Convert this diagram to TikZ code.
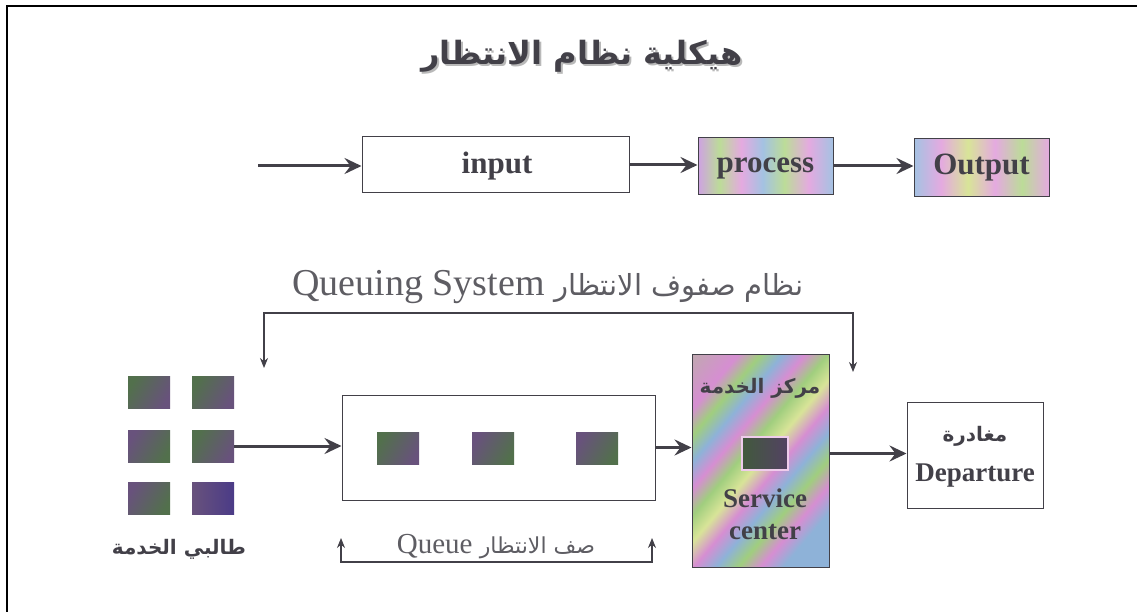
\documentclass[tikz,border=0pt]{standalone}
\usepackage{fontspec}
\setmainfont{Liberation Serif}
\newfontfamily\arabicfont[Script=Arabic]{DejaVu Sans}
\TeXXeTstate=1
\usetikzlibrary{arrows.meta}

% palette
\definecolor{ink}{RGB}{66,64,72}
\definecolor{rpink}{RGB}{228,170,224}
\definecolor{rgreen}{RGB}{188,220,152}
\definecolor{rblue}{RGB}{164,194,226}
\definecolor{rlilac}{RGB}{206,162,226}
\definecolor{ryellow}{RGB}{216,228,152}
\definecolor{spink}{RGB}{214,142,210}
\definecolor{sgreen}{RGB}{160,206,126}
\definecolor{sblue}{RGB}{142,178,216}
\definecolor{cgreen}{RGB}{82,112,76}
\definecolor{cpurple}{RGB}{104,82,124}

% multicolour fills of the process, output and service boxes
\pgfdeclarehorizontalshading{procshade}{100bp}{color(0bp)=(rlilac); color(25bp)=(rlilac);
  color(33bp)=(rgreen); color(41bp)=(rpink); color(49bp)=(rblue); color(57bp)=(rgreen);
  color(66bp)=(rpink); color(75bp)=(rblue); color(100bp)=(rblue)}
\pgfdeclarehorizontalshading{outshade}{100bp}{color(0bp)=(rblue); color(25bp)=(rblue);
  color(35bp)=(rpink); color(45bp)=(ryellow); color(55bp)=(rpink); color(65bp)=(rgreen);
  color(75bp)=(rpink); color(100bp)=(rpink)}
\pgfdeclarehorizontalshading{servshade}{100bp}{color(0bp)=(sgreen); color(25bp)=(spink);
  color(30bp)=(sgreen); color(35bp)=(sblue); color(40bp)=(spink); color(45bp)=(sgreen);
  color(50bp)=(ryellow); color(55bp)=(spink); color(60bp)=(sblue); color(65bp)=(sgreen);
  color(70bp)=(spink); color(75bp)=(sblue); color(100bp)=(sblue)}

\tikzset{
  box/.style={draw=ink, line width=1pt, inner sep=0pt},
  plainbox/.style={box, fill=white},
  labtext/.style={text=ink, inner sep=0pt, font=\fontsize{31}{36}\selectfont\bfseries},
  smalllab/.style={text=ink, inner sep=0pt, font=\fontsize{27}{32}\selectfont\bfseries},
  thintext/.style={text=ink!85, inner sep=0pt},
  arlab/.style={text=ink, inner sep=0pt, font=\arabicfont\bfseries\fontsize{20}{24}\selectfont},
  custA/.style={minimum width=42pt, minimum height=32pt, inner sep=0pt,
    left color=cgreen, right color=cpurple, shading angle=60},
  custB/.style={minimum width=42pt, minimum height=32pt, inner sep=0pt,
    left color=cpurple, right color=cgreen, shading angle=60},
  flow/.style={draw=ink, line width=3pt, -{Stealth[length=17pt,width=16pt,inset=6pt]}},
  bracket/.style={draw=ink, line width=1.1pt,
    {Stealth[length=10pt,width=8pt]}-{Stealth[length=10pt,width=8pt]}},
}

\begin{document}
\begin{tikzpicture}[x=1pt,y=-1pt]
\useasboundingbox (0,0) rectangle (1137,612);
\fill[white] (0,0) rectangle (1137,612);

% page frame (top and left edges)
\draw[line width=2.6pt, black] (7,612) -- (7,6) -- (1137,6);

% title
\node[text=gray!55, inner sep=0pt, font=\arabicfont\bfseries\fontsize{32}{38}\selectfont]
  (titleshadow) at (584,58) {\beginR هيكلية نظام الانتظار\endR};
\node[text=ink, inner sep=0pt, font=\arabicfont\bfseries\fontsize{32}{38}\selectfont]
  (title) at (582,56) {\beginR هيكلية نظام الانتظار\endR};

% input - process - output chain
\coordinate (src) at (258,166);
\node[plainbox, minimum width=267pt, minimum height=56pt] (input) at (495.5,165) {};
\node[labtext] (inputtxt) at (497,166) {input};
\node[box, shading=procshade, minimum width=135pt, minimum height=57pt] (process) at (765.5,166) {};
\node[labtext] (processtxt) at (765.5,168) {process};
\node[box, shading=outshade, minimum width=135pt, minimum height=58pt] (output) at (981.5,168) {};
\node[labtext] (outputtxt) at (981.5,168) {Output};

\draw[flow] (src) -- (src -| input.west);
\draw[flow] (input.east) -- (input.east -| process.west);
\draw[flow] (process.east) -- (process.east -| output.west);

% queuing system label and its bracket
\node[thintext, font=\fontsize{38}{42}\selectfont] (systxt) at (548,287)
  {Queuing System \arabicfont\fontsize{29}{34}\selectfont\beginR نظام صفوف الانتظار\endR};
\coordinate (sysbar) at (550,313);
\coordinate (sysL) at (264,368);
\coordinate (sysR) at (853,372);
\draw[bracket] (sysL) -- (sysL |- sysbar) -- (sysR |- sysbar) -- (sysR);

% customers waiting for service
\node[custA] (c11) at (149,392) {};
\node[custA] (c12) at (213,392) {};
\node[custB] (c21) at (149,446) {};
\node[custA] (c22) at (213,446) {};
\node[custB] (c31) at (149,498) {};
\node[custB, right color=cpurple!80!blue!90!black] (c32) at (213,498) {};
\node[arlab] (custtxt) at (179,549) {\beginR طالبي الخدمة\endR};

% the queue
\node[plainbox, minimum width=313pt, minimum height=105pt] (queue) at (498.5,447.5) {};
\node[custA] (q1) at (398,448) {};
\node[custB] (q2) at (493,448) {};
\node[custB] (q3) at (597,448) {};
\draw[flow] (c22.east) -- (c22.east -| queue.west);

\node[thintext, font=\fontsize{29}{34}\selectfont] (queuetxt) at (496,547)
  {Queue \arabicfont\fontsize{22}{26}\selectfont\beginR صف الانتظار\endR};
\coordinate (qbar) at (496,562);
\coordinate (qL) at (341,538);
\coordinate (qR) at (652,538);
\draw[bracket] (qL) -- (qL |- qbar) -- (qR |- qbar) -- (qR);

% service centre
\node[box, shading=servshade, shading angle=-40, minimum width=137pt, minimum height=213pt]
  (service) at (760.5,460.5) {};
\node[arlab] (servar) at (760,388) {\beginR مركز الخدمة\endR};
\node[draw=rpink!60!white, line width=1.5pt, left color=cgreen!80!black, right color=cpurple!80!black,
  minimum width=46pt, minimum height=33pt, inner sep=0pt] (server) at (765,453.5) {};
\node[smalllab] (servtxt1) at (765,498) {Service};
\node[smalllab] (servtxt2) at (765,532) {center};
\draw[flow] (queue.east) -- (queue.east -| service.west);

% departure
\node[plainbox, minimum width=136pt, minimum height=106pt] (departure) at (975,455) {};
\node[arlab] (deptar) at (975,436) {\beginR مغادرة\endR};
\node[smalllab] (depttxt) at (975,476) {Departure};
\draw[flow] (server -| service.east) -- (server -| departure.west);
\end{tikzpicture}
\end{document}
